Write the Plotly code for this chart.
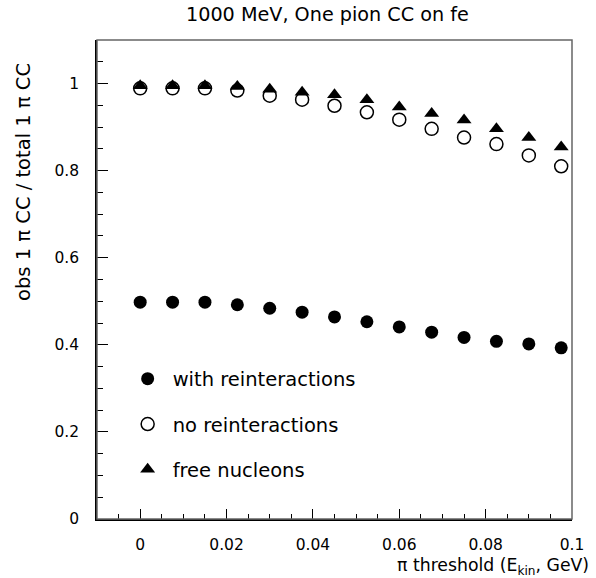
import plotly.graph_objects as go

# data
threshold = [0.0, 0.0075, 0.015, 0.0225, 0.03, 0.0375, 0.045, 0.0525,
             0.06, 0.0675, 0.075, 0.0825, 0.09, 0.0975]
with_reint = [0.498, 0.498, 0.498, 0.492, 0.484, 0.475, 0.464, 0.453,
              0.441, 0.429, 0.417, 0.408, 0.402, 0.393]
no_reint = [0.989, 0.989, 0.989, 0.984, 0.972, 0.963, 0.949, 0.934,
            0.917, 0.896, 0.876, 0.861, 0.835, 0.810]
free_nucl = [0.995, 0.995, 0.995, 0.993, 0.987, 0.980, 0.974, 0.963,
             0.946, 0.931, 0.916, 0.896, 0.876, 0.854]

names = ["with reinteractions", "no reinteractions", "free nucleons"]
x_ticks = [0, 0.02, 0.04, 0.06, 0.08, 0.1]
x_tick_text = ["0", "0.02", "0.04", "0.06", "0.08", "0.1"]
y_ticks = [0, 0.2, 0.4, 0.6, 0.8, 1.0]
y_tick_text = ["0", "0.2", "0.4", "0.6", "0.8", "1"]

FONT = "DejaVu Sans, Liberation Sans, sans-serif"

fig = go.Figure()
fig.add_trace(go.Scatter(x=threshold, y=with_reint, mode="markers", name=names[0],
                         legendgroup="a",
                         marker=dict(symbol="circle", size=13, color="black")))
fig.add_trace(go.Scatter(x=threshold, y=no_reint, mode="markers", name=names[1],
                         legendgroup="b",
                         marker=dict(symbol="circle-open", size=13, color="black",
                                     line=dict(width=1.5, color="black"))))
fig.add_trace(go.Scatter(x=threshold, y=free_nucl, mode="markers", name=names[2],
                         legendgroup="c",
                         marker=dict(symbol="triangle-up", size=13, color="black")))

fig.update_layout(
    width=596, height=578,
    margin=dict(l=97, r=18, t=40, b=59),
    paper_bgcolor="white", plot_bgcolor="white",
    font=dict(family=FONT, color="black"),
    showlegend=True,
    legend=dict(x=0.054, y=0.333, xanchor="left", yanchor="top",
                bgcolor="rgba(0,0,0,0)", font=dict(size=19.5),
                tracegroupgap=17, itemwidth=40),
    shapes=[dict(type="rect", xref="paper", yref="paper", x0=0, y0=0, x1=1, y1=1,
                 line=dict(color="#666", width=1.5), layer="above")],
    annotations=[
        dict(text="1000 MeV, One pion CC on fe", xref="paper", yref="paper",
             x=(330 - 97) / 481, y=1 + 25 / 479, xanchor="center", yanchor="middle",
             showarrow=False, font=dict(size=19.2)),
        dict(text="π threshold (E<sub>kin</sub>, GeV)", xref="paper", yref="paper",
             x=1 + 19 / 481, y=-47 / 479, xanchor="right", yanchor="middle",
             showarrow=False, font=dict(size=17.3)),
        dict(text="obs 1 π CC / total 1 π CC", xref="paper", yref="paper",
             x=-75 / 481, y=1 - 21 / 479, xanchor="center", yanchor="top",
             textangle=-90, showarrow=False, font=dict(size=19.5)),
    ],
)

fig.update_xaxes(range=[-0.01, 0.1], tickvals=x_ticks, ticktext=x_tick_text,
                 ticks="inside", ticklen=10, tickwidth=1, tickcolor="black",
                 showline=True, linecolor="black", linewidth=1.5, mirror=False,
                 showgrid=False, zeroline=False, tickfont=dict(size=15.5),
                 ticklabelstandoff=11,
                 minor=dict(ticks="inside", dtick=0.005, tick0=0, ticklen=5,
                            tickcolor="black", showgrid=False))
fig.update_yaxes(range=[0, 1.1], tickvals=y_ticks, ticktext=y_tick_text,
                 ticks="inside", ticklen=11, tickwidth=1, tickcolor="black",
                 showline=True, linecolor="black", linewidth=1.5, mirror=False,
                 showgrid=False, zeroline=False, tickfont=dict(size=15.5),
                 ticklabelstandoff=13,
                 minor=dict(ticks="inside", dtick=0.05, tick0=0, ticklen=6,
                            tickcolor="black", showgrid=False))

fig.write_html("out.html")
